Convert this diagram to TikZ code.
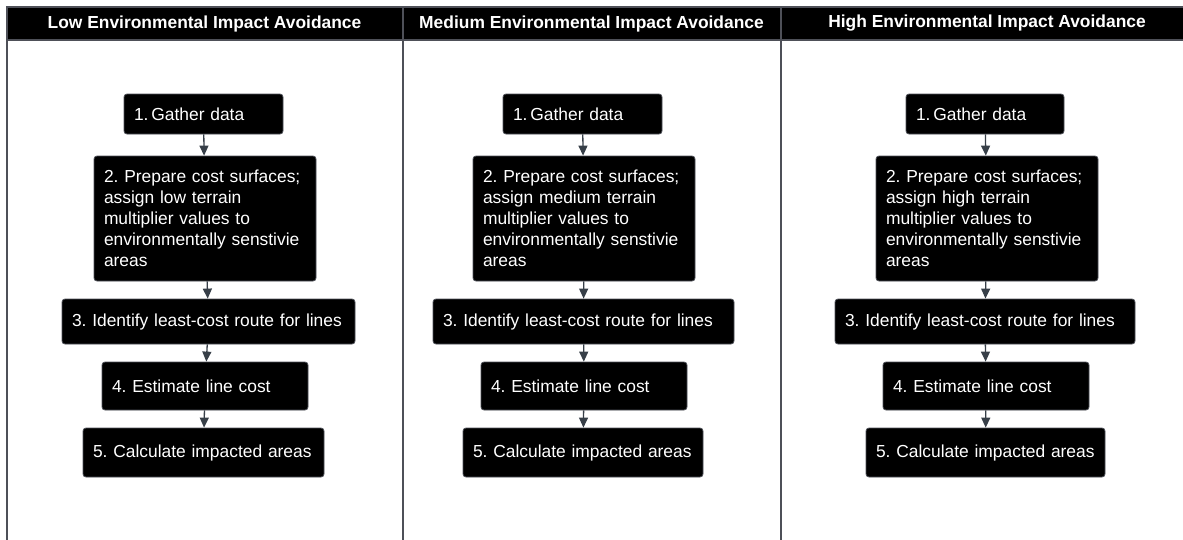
\documentclass[tikz,border=0pt]{standalone}
\usepackage{fontspec}
\setmainfont{Liberation Sans}
\usetikzlibrary{arrows.meta}
\frenchspacing
\hyphenpenalty=10000
\exhyphenpenalty=10000
\definecolor{framegray}{RGB}{78,80,88}
\definecolor{arrowgray}{RGB}{55,63,72}
\tikzset{
  stepbox/.style={draw=framegray, line width=0.8pt, fill=black, rounded corners=3pt,
    text=white, inner xsep=10pt, inner ysep=0pt, align=left, anchor=center,
    font=\fontsize{17.4}{21}\selectfont\frenchspacing},
  headtext/.style={text=white, font=\fontsize{17.4}{21}\selectfont\bfseries, anchor=center},
  frameline/.style={draw=framegray, line width=1.4pt},
  flow/.style={draw=arrowgray, line width=1.3pt, -{Triangle[width=9pt,length=10pt]}}
}
\newcommand{\mybox}[6]{% name, x1, x2, y1, y2, text
  \pgfmathsetmacro{\cx}{(#2+#3)/2}
  \pgfmathsetmacro{\cy}{(#4+#5)/2}
  \pgfmathsetmacro{\ww}{#3-#2}
  \pgfmathsetmacro{\hh}{#5-#4}
  \pgfmathsetmacro{\tw}{#3-#2-20}
  \node[stepbox, minimum width=\ww pt, minimum height=\hh pt, text width=\tw pt] (#1) at (\cx,\cy) {#6};
}
\begin{document}
\begin{tikzpicture}[x=1pt,y=-1pt]
\useasboundingbox (0,0) rectangle (1183,539);
\clip (0,0) rectangle (1183,539);
% header band and frame
\fill[black] (7,7) rectangle (1195,40);
\draw[frameline] (1195,7) -- (7,7) -- (7,545);
\draw[frameline] (7,40) -- (1195,40);
\draw[frameline] (403,7) -- (403,545);
\draw[frameline] (781,7) -- (781,545);
\node[headtext] (h1) at (204.5,23.5) {Low Environmental Impact Avoidance};
\node[headtext] (h2) at (591.5,23.5) {Medium Environmental Impact Avoidance};
\node[headtext] (h3) at (987,23.5) {High Environmental Impact Avoidance};
% column 1
\mybox{a1}{124}{283}{94}{134}{1.\,Gather data}
\mybox{a2}{94}{316}{156}{281}{2. Prepare cost surfaces;\\assign low terrain\\multiplier values to\\environmentally senstivie\\areas}
\mybox{a3}{62}{355}{299}{344}{3. Identify least-cost route for lines}
\mybox{a4}{102}{308}{362}{410}{4. Estimate line cost}
\mybox{a5}{83}{324}{428}{477}{5. Calculate impacted areas}
% column 2
\mybox{b1}{503}{662}{94}{134}{1.\,Gather data}
\mybox{b2}{473}{695}{156}{281}{2. Prepare cost surfaces;\\assign medium terrain\\multiplier values to\\environmentally senstivie\\areas}
\mybox{b3}{433}{734}{299}{344}{3. Identify least-cost route for lines}
\mybox{b4}{481}{687}{362}{410}{4. Estimate line cost}
\mybox{b5}{463}{703}{428}{477}{5. Calculate impacted areas}
% column 3
\mybox{c1}{906}{1064}{94}{134}{1.\,Gather data}
\mybox{c2}{876}{1098}{156}{281}{2. Prepare cost surfaces;\\assign high terrain\\multiplier values to\\environmentally senstivie\\areas}
\mybox{c3}{835}{1135}{299}{344}{3. Identify least-cost route for lines}
\mybox{c4}{883}{1089}{362}{410}{4. Estimate line cost}
\mybox{c5}{866}{1105}{428}{477}{5. Calculate impacted areas}
% connectors
\foreach \c in {a,b,c}{
  \draw[flow] (\c1) -- (\c2);
  \draw[flow] (\c2) -- (\c3);
  \draw[flow] (\c3) -- (\c4);
  \draw[flow] (\c4) -- (\c5);
}
\end{tikzpicture}
\end{document}
